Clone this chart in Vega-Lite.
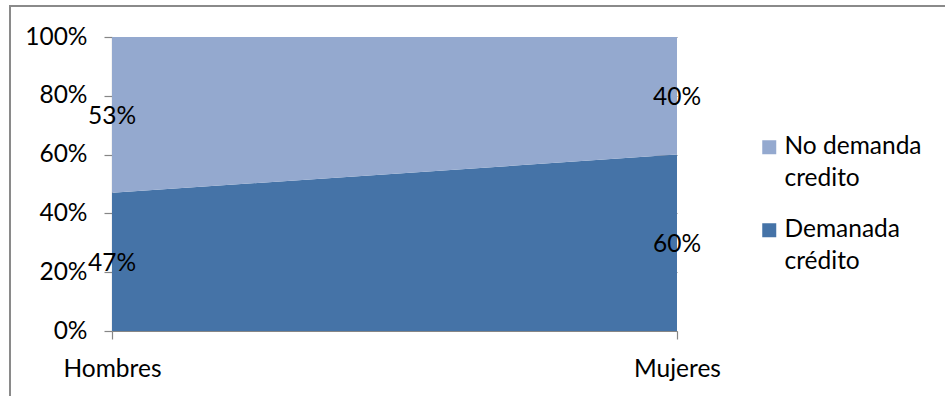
{
  "$schema": "https://vega.github.io/schema/vega-lite/v6.json",
  "autosize": "none",
  "width": 936,
  "height": 391,
  "padding": {"left": 10, "top": 6, "right": 0, "bottom": 0},
  "background": "white",
  "config": {
    "font": "Lato",
    "view": {"stroke": "#8a8a8a", "strokeWidth": 2},
    "axis": {
      "labelFont": "Lato",
      "labelFontSize": 24.5,
      "labelColor": "#000000",
      "domainColor": "#868686",
      "tickColor": "#868686",
      "domainWidth": 1.2,
      "tickWidth": 1.2,
      "tickSize": 8,
      "title": null
    }
  },
  "data": {
    "values": [
      {"sexo": "Hombres", "tipo": "Demanada crédito", "valor": 47},
      {"sexo": "Hombres", "tipo": "No demanda credito", "valor": 53},
      {"sexo": "Mujeres", "tipo": "Demanada crédito", "valor": 60},
      {"sexo": "Mujeres", "tipo": "No demanda credito", "valor": 40}
    ]
  },
  "transform": [
    {
      "stack": "valor",
      "groupby": ["sexo"],
      "offset": "normalize",
      "sort": [{"field": "tipo", "order": "ascending"}],
      "as": ["y0", "y1"]
    },
    {"calculate": "(datum.y0 + datum.y1) / 2", "as": "mid"},
    {"calculate": "datum.y1 - datum.y0", "as": "share"}
  ],
  "encoding": {
    "x": {
      "field": "sexo",
      "type": "nominal",
      "scale": {"type": "point", "domain": ["Hombres", "Mujeres"], "range": [102, 667], "padding": 0},
      "axis": {
        "orient": "bottom",
        "offset": -66,
        "labelAngle": 0,
        "labelPadding": 18,
        "grid": false
      }
    }
  },
  "layer": [
    {
      "mark": {"type": "area", "strokeWidth": 0},
      "encoding": {
        "y": {
          "field": "y0",
          "type": "quantitative",
          "scale": {"domain": [0, 1], "range": [325, 31], "nice": false, "zero": false},
          "axis": {
            "orient": "left",
            "offset": -102,
            "values": [0, 0.2, 0.4, 0.6, 0.8, 1],
            "format": ".0%",
            "labelPadding": 17,
            "grid": true,
            "gridColor": "#868686",
            "gridWidth": 1.2
          }
        },
        "y2": {"field": "y1"},
        "color": {
          "field": "tipo",
          "type": "nominal",
          "scale": {
            "domain": ["No demanda credito", "Demanada crédito"],
            "range": ["#94a9cf", "#4573a7"]
          },
          "legend": {
            "title": null,
            "orient": "none",
            "legendX": 747,
            "legendY": 129,
            "symbolType": "square",
            "symbolSize": 196,
            "symbolStrokeWidth": 0,
            "symbolOpacity": 1,
            "labelFont": "Lato",
            "labelFontSize": 24.5,
            "labelColor": "#000000",
            "labelOffset": 3,
            "labelLimit": 300,
            "rowPadding": 26,
            "padding": 0,
            "labelExpr": "datum.label == 'No demanda credito' ? ['No demanda', 'credito'] : ['Demanada', 'crédito']",
            "encode": {"labels": {"update": {"lineHeight": {"value": 32}}}}
          }
        }
      }
    },
    {
      "mark": {"type": "text", "font": "Lato", "fontSize": 24.5, "color": "#000000", "align": "center", "baseline": "middle", "dy": 2},
      "encoding": {
        "y": {"field": "mid", "type": "quantitative"},
        "text": {"field": "share", "type": "quantitative", "format": ".0%"}
      }
    }
  ]
}
